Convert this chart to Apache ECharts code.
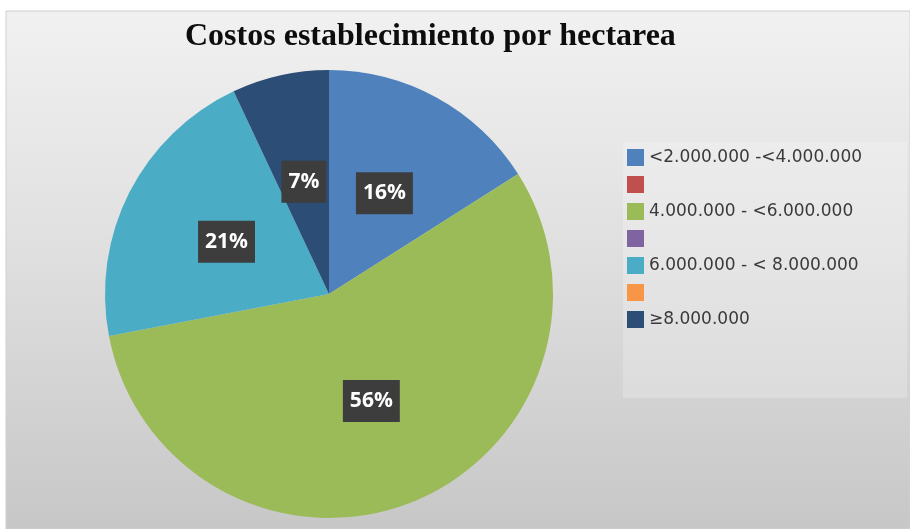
<!DOCTYPE html>
<html>
<head>
<meta charset="utf-8">
<script src="https://cdn.jsdelivr.net/npm/echarts@6/dist/echarts.min.js"></script>
<style>
  html, body { margin: 0; padding: 0; background: #ffffff; }
  #chart { width: 910px; height: 529px; }
</style>
</head>
<body>
<div id="chart"></div>
<script>
// Cost ranges per hectare (COP) and their share of farms, in percent.
// Empty-named entries keep the blank legend rows of the source workbook.
const categories = [
  '<2.000.000 -<4.000.000',
  ' ',
  '4.000.000 - <6.000.000',
  '  ',
  '6.000.000 - < 8.000.000',
  '   ',
  '\u22658.000.000'
];
const shares = [16, 0, 56, 0, 21, 0, 7];
const palette = ['#4f81bd', '#c0504d', '#9bbb59', '#8064a2', '#4bacc6', '#f79646', '#2c4d75'];
const titleText = 'Costos establecimiento por hectarea';

const pieData = categories.map((name, i) => ({
  name: name,
  value: shares[i],
  itemStyle: { color: palette[i] },
  label: { show: shares[i] > 0 }
}));

const chart = echarts.init(document.getElementById('chart'), null, { renderer: 'canvas' });

chart.setOption({
  animation: false,
  backgroundColor: '#ffffff',
  color: palette,
  graphic: [
    {
      // chart area fill: light at the top, fading to grey at the bottom
      type: 'rect',
      z: -10,
      shape: { x: 6, y: 11, width: 904, height: 518 },
      style: {
        fill: {
          type: 'linear', x: 0, y: 0, x2: 0, y2: 1,
          colorStops: [
            { offset: 0, color: '#f1f1f1' },
            { offset: 0.45, color: '#e0e0e0' },
            { offset: 1, color: '#c7c7c7' }
          ]
        },
        stroke: '#d0d0d0',
        lineWidth: 1
      }
    },
    {
      // soft highlight behind the legend
      type: 'rect',
      z: -9,
      shape: { x: 623, y: 142, width: 284, height: 256 },
      style: { fill: 'rgba(255,255,255,0.22)' }
    }
  ],
  title: {
    text: titleText,
    left: 180,
    top: 16,
    textStyle: {
      fontFamily: 'Liberation Serif',
      fontWeight: 'bold',
      fontSize: 32,
      color: '#0d0d0d'
    }
  },
  legend: {
    orient: 'vertical',
    left: 622,
    top: 144,
    itemWidth: 17,
    itemHeight: 17,
    itemGap: 10,
    icon: 'rect',
    selectedMode: false,
    data: categories,
    textStyle: {
      fontFamily: 'DejaVu Sans',
      fontSize: 17,
      color: '#3a3a3a'
    }
  },
  series: [{
    type: 'pie',
    center: [329, 294],
    radius: 224,
    startAngle: 90,
    clockwise: true,
    avoidLabelOverlap: false,
    itemStyle: { borderWidth: 0 },
    label: {
      show: true,
      position: 'inside',
      formatter: '{d}%',
      fontFamily: 'Open Sans',
      fontWeight: 'bold',
      fontSize: 21,
      lineHeight: 24,
      color: '#ffffff',
      backgroundColor: '#3d3d3d',
      padding: [10, 7, 8, 7]
    },
    labelLine: { show: false },
    emphasis: { disabled: true },
    data: pieData
  }]
});
</script>
</body>
</html>
